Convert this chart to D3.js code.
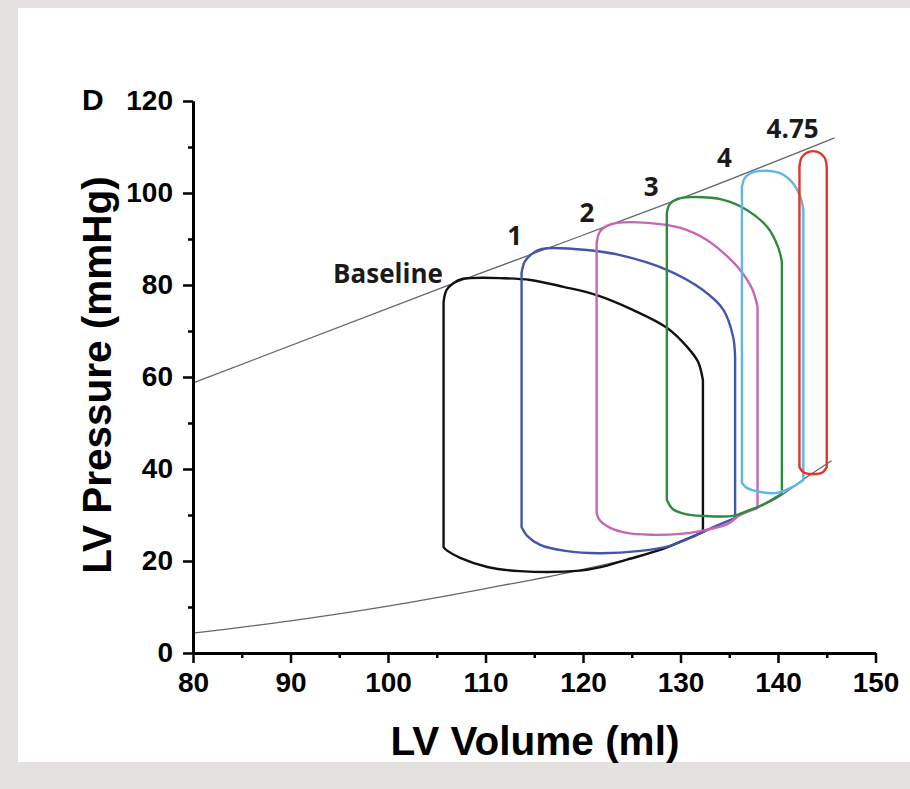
<!DOCTYPE html>
<html>
<head>
<meta charset="utf-8">
<script src="https://cdn.jsdelivr.net/npm/d3@7"></script>
<style>
  html, body { margin: 0; padding: 0; background: #e6e1e1; }
  svg { display: block; }
</style>
</head>
<body>
<svg id="chart" width="910" height="789"></svg>
<script>
// ---------- data (LV volume in ml, LV pressure in mmHg) ----------
const xTicks = [80, 90, 100, 110, 120, 130, 140, 150];
const xMinorTicks = [85, 95, 105, 115, 125, 135, 145];
const yTicks = [0, 20, 40, 60, 80, 100, 120];
const yMinorTicks = [10, 30, 50, 70, 90, 110];

// end-systolic pressure-volume relation (upper gray line)
const espvr = [[80, 58.7], [107.1, 80.7], [119.7, 90.6], [131, 99.6], [145.8, 112]];
// end-diastolic pressure-volume relation (lower gray curve)
const edpvr = [[80, 4.3], [90, 7.0], [100, 10.2], [110, 14.0], [120, 18.2], [128, 22.5],
               [132, 26.0], [136, 29.8], [140, 33.8], [143, 38.3], [145.5, 41.8]];

// each PV loop: upper arc (ejection, left vertical top -> right vertical top)
// and lower arc (filling, left vertical bottom -> right vertical bottom)
const baselineTop = [[105.7,76.3],[106.0,78.9],[106.7,80.4],[107.6,81.3],[108.4,81.5],[111.5,81.5],
  [114.6,81.1],[118.0,79.6],[121.4,77.8],[125.1,74.6],[128.6,70.7],[130.7,66.5],[131.8,63.3],[132.3,59.3]];
const baselineBottom = [[105.7,23.0],[106.1,22.2],[107.4,20.7],[110.2,18.7],[113.5,17.8],[119.7,17.9],
  [121.7,18.6],[124.5,20.3],[127.9,22.4],[130.0,24.2],[132.3,26.3]];

const loop1Top = [[113.7,82.6],[114.0,85.0],[114.6,86.5],[115.4,87.6],[116.3,88.0],[120.4,87.6],
  [123.8,86.5],[128.6,83.3],[132.3,78.9],[134.4,74.6],[135.4,68.7],[135.6,64.3]];
const loop1Bottom = [[113.7,27.4],[114.3,25.4],[115.6,23.5],[118.2,22.2],[121.7,21.7],[125.9,22.2],
  [128.9,23.3],[131.0,25.0],[133.0,27.0],[135.6,29.3]];

const loop2Top = [[121.4,89.1],[121.7,91.5],[122.4,92.8],[123.5,93.5],[126.6,93.5],[130.0,92.4],
  [132.7,89.8],[134.4,87.0],[136.1,83.3],[137.4,78.9],[137.9,75.2]];
const loop2Bottom = [[121.4,30.4],[121.7,28.9],[122.8,27.2],[124.5,26.1],[127.0,25.7],[130.0,25.9],
  [132.0,26.5],[134.8,28.0],[136.1,30.0],[137.9,31.5]];

const loop3Top = [[128.6,95.7],[128.9,97.6],[129.7,98.7],[131.0,99.1],[134.4,98.5],[136.8,96.3],
  [138.9,92.6],[140.0,88.3],[140.4,85.0]];
const loop3Bottom = [[128.6,33.3],[129.2,31.3],[130.5,30.2],[132.3,29.8],[135.4,29.8],[136.6,30.7],
  [138.2,32.0],[139.2,33.1],[140.4,34.6]];

const loop4Top = [[136.3,101.3],[136.6,103.3],[137.2,104.3],[138.2,104.8],[140.2,104.3],[141.5,102.2],
  [142.3,99.1],[142.6,96.3]];
const loop4Bottom = [[136.3,37.0],[136.8,35.9],[138.2,35.0],[139.9,34.8],[141.5,36.1],[142.6,37.6]];

const loop475Top = [[142.2,105.7],[142.4,107.6],[142.9,108.7],[143.6,109.1],[144.3,108.7],[144.8,107.6],[145.0,105.7]];
const loop475Bottom = [[142.2,40.4],[142.6,39.3],[143.6,38.9],[144.6,39.3],[145.0,40.4]];

const loopNames = ["Baseline", "1", "2", "3", "4", "4.75"];
const loopTops = [baselineTop, loop1Top, loop2Top, loop3Top, loop4Top, loop475Top];
const loopBottoms = [baselineBottom, loop1Bottom, loop2Bottom, loop3Bottom, loop4Bottom, loop475Bottom];
const loopColors = ["#111111", "#4356aa", "#c766b8", "#2f8a3f", "#62b5e5", "#e0352d"];
// label anchor (volume, pressure) for each loop name
const labelAnchors = [[100.0, 80.4], [113.0, 88.7], [120.4, 93.7], [127.0, 99.3], [134.5, 105.7], [141.5, 112.0]];

// ---------- drawing ----------
const svg = d3.select("#chart");
svg.append("rect").attr("x", 0).attr("y", 0).attr("width", 910).attr("height", 789).attr("fill", "#e6e1e1");
svg.append("rect").attr("x", 18).attr("y", 8).attr("width", 892).attr("height", 754).attr("fill", "#ffffff");

const x = d3.scaleLinear().domain([80, 150]).range([193, 875.5]);
const y = d3.scaleLinear().domain([0, 120]).range([653, 101]);

const g = svg.append("g");

// reference relations
const smooth = d3.line().x(d => x(d[0])).y(d => y(d[1])).curve(d3.curveMonotoneX);
g.append("path").datum(espvr).attr("d", smooth)
  .attr("fill", "none").attr("stroke", "#666").attr("stroke-width", 1.3);
g.append("path").datum(edpvr).attr("d", smooth)
  .attr("fill", "none").attr("stroke", "#666").attr("stroke-width", 1.3);

// loops: left vertical up, upper arc, right vertical down, lower arc back
const arc = d3.line().x(d => x(d[0])).y(d => y(d[1])).curve(d3.curveCatmullRom.alpha(0.5));
function loopPath(i) {
  const top = loopTops[i], bot = loopBottoms[i];
  const bl = bot[0];
  const topStr = arc(top);
  const botStr = arc(bot.slice().reverse());
  return "M" + x(bl[0]) + "," + y(bl[1]) +
         "L" + topStr.slice(1) +
         "L" + botStr.slice(1) + "Z";
}
g.selectAll("path.loop").data(loopNames).join("path")
  .attr("class", "loop")
  .attr("d", (d, i) => loopPath(i))
  .attr("fill", "none")
  .attr("stroke", (d, i) => loopColors[i])
  .attr("stroke-width", 2.4)
  .attr("stroke-linejoin", "round");

// loop labels
g.selectAll("text.lbl").data(loopNames).join("text")
  .attr("class", "lbl")
  .attr("x", (d, i) => x(labelAnchors[i][0]))
  .attr("y", (d, i) => y(labelAnchors[i][1]))
  .attr("text-anchor", "middle")
  .attr("font-family", "'Open Sans', sans-serif")
  .attr("font-weight", 700)
  .attr("font-size", 26)
  .attr("fill", "#1a1a1a")
  .text(d => d);

// axes
const tickFont = "'Liberation Sans', Arial, sans-serif";
function styleAxis(sel, labelled) {
  sel.select(".domain").attr("stroke", "#000").attr("stroke-width", 3);
  sel.selectAll(".tick line").attr("stroke", "#000").attr("stroke-width", 2.5);
  if (labelled) {
    sel.selectAll(".tick text")
      .attr("font-family", tickFont).attr("font-weight", "bold")
      .attr("font-size", 28).attr("fill", "#000");
  }
}

const yMinor = svg.append("g").attr("transform", `translate(${x(80)},0)`)
  .call(d3.axisLeft(y).tickValues(yMinorTicks).tickSize(5).tickSizeOuter(0).tickFormat(""));
styleAxis(yMinor, false);
const xMinor = svg.append("g").attr("transform", `translate(0,${y(0)})`)
  .call(d3.axisBottom(x).tickValues(xMinorTicks).tickSize(5).tickSizeOuter(0).tickFormat(""));
styleAxis(xMinor, false);

const yAxis = svg.append("g").attr("transform", `translate(${x(80)},0)`)
  .call(d3.axisLeft(y).tickValues(yTicks).tickSize(10).tickSizeOuter(0).tickPadding(10).tickFormat(d3.format("d")));
styleAxis(yAxis, true);
const xAxis = svg.append("g").attr("transform", `translate(0,${y(0)})`)
  .call(d3.axisBottom(x).tickValues(xTicks).tickSize(10).tickSizeOuter(0).tickPadding(9).tickFormat(d3.format("d")));
styleAxis(xAxis, true);

// axis titles
svg.append("text")
  .attr("x", 535).attr("y", 755)
  .attr("text-anchor", "middle")
  .attr("font-family", tickFont).attr("font-weight", "bold").attr("font-size", 40.5)
  .attr("fill", "#000")
  .text("LV Volume (ml)");
svg.append("text")
  .attr("transform", "translate(111,375) rotate(-90)")
  .attr("text-anchor", "middle")
  .attr("font-family", tickFont).attr("font-weight", "bold").attr("font-size", 40.5)
  .attr("fill", "#000")
  .text("LV Pressure (mmHg)");

// panel letter
svg.append("text")
  .attr("x", 82).attr("y", 110)
  .attr("font-family", tickFont).attr("font-weight", "bold").attr("font-size", 30)
  .attr("fill", "#000")
  .text("D");
</script>
</body>
</html>
